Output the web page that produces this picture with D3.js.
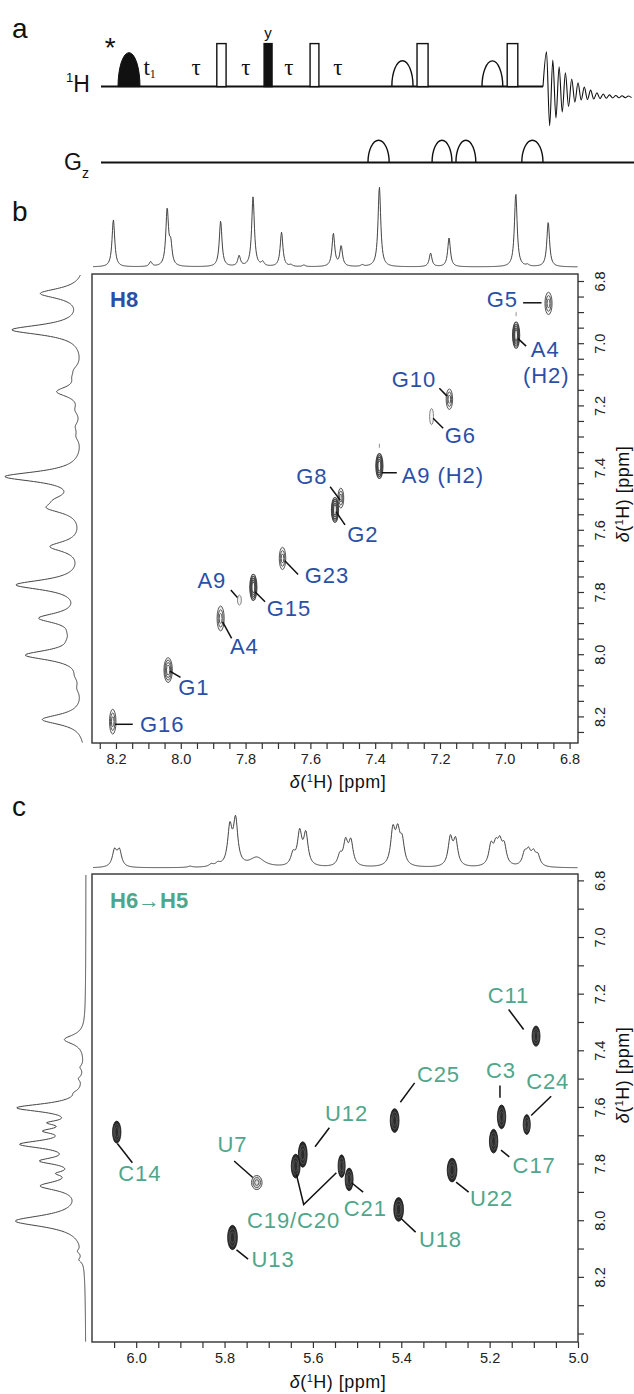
<!DOCTYPE html>
<html><head><meta charset="utf-8">
<script src="https://cdn.jsdelivr.net/npm/d3@7"></script>
<style>body{margin:0;background:#fff}svg{display:block}</style>
</head><body><svg width="634" height="1394"></svg>
<script>
// ---------------- DATA ----------------
// Panel a: pulse sequence elements (time in arbitrary units 0..100, amplitude 0..1)
const rfElements = [
  {t0:3.85, t1:8.82, amp:0.79, kind:"shaped", fill:true},
  {t0:26.2, t1:28.3, amp:1.0, kind:"rect", fill:false},
  {t0:36.9, t1:38.7, amp:1.0, kind:"rect", fill:true},
  {t0:47.3, t1:49.3, amp:1.0, kind:"rect", fill:false},
  {t0:65.8, t1:70.6, amp:0.6, kind:"sine", fill:false},
  {t0:71.5, t1:74.0, amp:1.0, kind:"rect", fill:false},
  {t0:86.2, t1:90.9, amp:0.6, kind:"sine", fill:false},
  {t0:91.9, t1:94.3, amp:1.0, kind:"rect", fill:false}
];
const gradElements = [
  {t0:60.4, t1:65.2, amp:0.52},
  {t0:74.9, t1:79.4, amp:0.52},
  {t0:80.3, t1:84.8, amp:0.52},
  {t0:95.2, t1:100.0, amp:0.52}
];
const delayLabels = [{t:11.0, txt:"t", sub:"1"},{t:21.5, txt:"τ"},{t:32.8, txt:"τ"},{t:42.5, txt:"τ"},{t:53.6, txt:"τ"}];
// FID extrema (relative amplitude, alternating up/down)
const fidExtrema = [1.05,-0.67,0.86,-0.49,0.70,-0.35,0.56,-0.22,0.42,-0.12,0.33,-0.07,0.23,-0.058,0.16,-0.047,0.10,-0.037,0.07,-0.03,0.05,-0.023,0.035,-0.019,0.028,-0.016,0.023,-0.014];

// Panel b: H8 region
const ticksMajorB = [8.2,8.0,7.8,7.6,7.4,7.2,7.0,6.8];
const tickLabelsB = ["8.2","8.0","7.8","7.6","7.4","7.2","7.0","6.8"];
// top 1D trace: [ppm, relative height]
const topPeaksB = [[8.208,0.59],[8.093,0.06],[8.042,0.70],[8.031,0.25],[7.877,0.57],[7.820,0.13],[7.777,0.87],[7.747,0.05],[7.689,0.43],[7.660,0.02],[7.620,0.02],[7.529,0.41],[7.505,0.25],[7.440,0.02],[7.387,1.0],[7.229,0.17],[7.172,0.36],[6.930,0.02],[6.966,0.92],[6.866,0.56]];
// left 1D projection: [ppm, relative height]
const leftPeaksB = [[6.84,0.54],[6.957,0.90],[7.086,0.07],[7.11,0.07],[7.156,0.32],[7.215,0.07],[7.268,0.07],[7.30,0.06],[7.429,0.97],[7.504,0.2],[7.53,0.36],[7.654,0.40],[7.777,0.83],[7.884,0.52],[7.93,0.06],[7.955,0.06],[8.003,0.71],[8.07,0.05],[8.11,0.05],[8.21,0.53]];
// 2D cross peaks: name, x ppm, y ppm, x width, y width (ppm), contour levels
const peakNamesB = ["G5","A4 (H2)","G10","G6","A9 (H2)","G8","G2","G23","G15","A9","A4","G1","G16"];
const peakXB = [6.865,6.965,7.171,7.226,7.387,7.506,7.524,7.686,7.776,7.819,7.877,8.039,8.21];
const peakYB = [6.872,6.974,7.180,7.236,7.395,7.498,7.536,7.692,7.785,7.826,7.885,8.051,8.217];
const peakWXB = [0.011,0.011,0.010,0.006,0.011,0.009,0.011,0.010,0.011,0.006,0.011,0.013,0.010];
const peakWYB = [0.036,0.042,0.033,0.026,0.040,0.032,0.040,0.036,0.042,0.016,0.040,0.040,0.040];
const peakLevelsB = [3,5,3,1,5,3,5,3,5,1,3,4,3];

// Panel c: H6->H5 region
const ticksMajorCx = [6.0,5.8,5.6,5.4,5.2,5.0];
const tickLabelsCx = ["6.0","5.8","5.6","5.4","5.2","5.0"];
const ticksMajorCy = [6.8,7.0,7.2,7.4,7.6,7.8,8.0,8.2];
const tickLabelsCy = ["6.8","7.0","7.2","7.4","7.6","7.8","8.0","8.2"];
const topPeaksC = [[6.049,0.27],[6.038,0.27],[5.878,0.02],[5.83,0.04],[5.815,0.05],[5.788,0.62],[5.775,0.74],[5.727,0.16,0.02],[5.645,0.19],[5.630,0.54],[5.616,0.52],[5.539,0.17],[5.526,0.39],[5.514,0.40],[5.419,0.57],[5.408,0.50],[5.398,0.38],[5.289,0.46],[5.277,0.42],[5.197,0.33],[5.186,0.29],[5.177,0.33],[5.167,0.31],[5.121,0.20],[5.112,0.22],[5.101,0.20],[5.091,0.17]];
const leftPeaksC = [[7.362,0.26,0.02],[7.46,0.04,0.01],[7.50,0.05,0.01],[7.55,0.05,0.01],[7.603,0.82,0.018],[7.656,0.30,0.01],[7.685,0.36,0.012],[7.732,0.74,0.018],[7.791,0.46,0.015],[7.835,0.2,0.01],[7.879,0.5,0.02],[8.003,0.86,0.025],[8.11,0.05,0.01],[8.14,0.05,0.01]];
const peakNamesC = ["C14","U7","U13","U12","C19","C20","C21","C25","U18","U22","C3","C17","C24","C11"];
const peakXC = [6.044,5.727,5.782,5.623,5.639,5.535,5.518,5.415,5.406,5.285,5.173,5.191,5.116,5.095];
const peakYC = [7.689,7.867,8.061,7.768,7.809,7.809,7.856,7.648,7.962,7.823,7.635,7.721,7.662,7.350];
const peakWXC = [0.0095,0.012,0.011,0.010,0.010,0.008,0.009,0.010,0.011,0.011,0.0095,0.0095,0.008,0.009];
const peakWYC = [0.039,0.025,0.043,0.045,0.042,0.040,0.040,0.042,0.042,0.042,0.042,0.042,0.035,0.036];

// ---------------- LAYOUT / ANNOTATION ----------------
const FONT = '"Liberation Sans", Arial, Helvetica, sans-serif';
const SERIF = '"Liberation Serif", "DejaVu Serif", serif';
const BLUE = "#2b4fa6", GREEN = "#4fa68b";
// label placement offsets (px) relative to peak
const labelsB = [
  {p:"G5", lines:[["G5",-61.7,3.4]], lead:[[-25.4,-0.6],[-7,-0.6]]},
  {p:"A4 (H2)", lines:[["A4",14.7,22],["(H2)",7,48]], lead:[[1.7,3.3],[10,11]]},
  {p:"G10", lines:[["G10",-57.6,-12]], lead:[[-10,-11],[-2.6,-3.3]]},
  {p:"G6", lines:[["G6",13.3,26]], lead:[[1.6,1.6],[11.6,11.6]]},
  {p:"A9 (H2)", lines:[["A9 (H2)",22.4,17.3]], lead:[[2.4,6.7],[17.4,6.7]]},
  {p:"G8", lines:[["G8",-44.7,-14]], lead:[[-10.7,-11.3],[-0.7,2]]},
  {p:"G2", lines:[["G2",12.3,31.7]], lead:[[1,1.7],[10,15]]},
  {p:"G23", lines:[["G23",22.3,25]], lead:[[2.3,2.4],[15.6,16]]},
  {p:"G15", lines:[["G15",13.4,28.7]], lead:[[1.7,4.4],[11.7,14.4]]},
  {p:"A9", lines:[["A9",-42,-11.7]], lead:[[-8.6,-10],[-2,-2.7]]},
  {p:"A4", lines:[["A4",9.3,35.7]], lead:[[2,3.4],[11,20]]},
  {p:"G1", lines:[["G1",10,25]], lead:[[1.7,1],[12.4,7.3]]},
  {p:"G16", lines:[["G16",27.3,10]], lead:[[2.3,2.6],[20,2.6]]}
];
const labelsC = [
  {p:"C11", lines:[["C11",-48.4,-33.4]], lead:[[-27.4,-26.7],[-12.4,-6.7]]},
  {p:"C25", lines:[["C25",22.3,-38.3]], lead:[[20,-37.7],[5.7,-18.3]]},
  {p:"C3", lines:[["C3",-15.6,-39]], lead:[[-1.6,-31.3],[-1.6,-19]]},
  {p:"C24", lines:[["C24",-0.6,-35]], lead:[[24.4,-28.3],[4.4,-9]]},
  {p:"C17", lines:[["C17",19,31.6]], lead:[[7.4,9],[15.7,15.6]]},
  {p:"U22", lines:[["U22",18,36]], lead:[[4,12],[16.6,22]]},
  {p:"U18", lines:[["U18",20.3,37.3]], lead:[[2.7,9.3],[17,22.7]]},
  {p:"C21", lines:[["C21",-5.3,36.7]], lead:[[2.4,3.3],[14,12.7]]},
  {p:"C19", lines:[["C19/C20",-48.7,61.6]], lead:[[0.7,8.3],[8,38.3],[40.7,6.6]]},
  {p:"U12", lines:[["U12",22.3,-33.3]], lead:[[26.6,-26.7],[12.3,-7.7]]},
  {p:"U7", lines:[["U7",-39.4,-30.6]], lead:[[-22.7,-21.6],[-4,-5]]},
  {p:"C14", lines:[["C14",1.6,49]], lead:[[0.6,11.3],[15.6,30.6]]},
  {p:"U13", lines:[["U13",19,30]], lead:[[4,12.4],[15.6,21.7]]}
];

const svg = d3.select("svg");
svg.append("rect").attr("width",634).attr("height",1394).attr("fill","#fff");

// helper: sum of Lorentzian lines given peak list
function trace(peaks, defHw){
  return ppm => d3.sum(peaks, p => { const hw = p[2]||defHw; const u=(ppm-p[0])/hw; return p[1]/(1+u*u); });
}
function panelLetter(t,x,y){
  svg.append("text").attr("x",x).attr("y",y).attr("font-family",FONT).attr("font-size",28).attr("fill","#111").text(t);
}

// ---------------- PANEL A ----------------
panelLetter("a",12,38);
const seqT = d3.scaleLinear().domain([0,100]).range([101,543]);
const seqA = d3.scaleLinear().domain([0,1]).range([0,43]);
const yH = 86.6, yG = 162.6;
const ga = svg.append("g");
ga.append("line").attr("x1",seqT(0)).attr("x2",seqT(100)).attr("y1",yH).attr("y2",yH).attr("stroke","#111").attr("stroke-width",2);
ga.append("line").attr("x1",seqT(0)).attr("x2",634).attr("y1",yG).attr("y2",yG).attr("stroke","#111").attr("stroke-width",2);
function arcPath(x0,x1,y,h,close){ const rx=(x1-x0)/2; return `M${x0},${y} A${rx},${h} 0 0 1 ${x1},${y}`+(close?"Z":""); }
rfElements.forEach(e=>{
  const x0=seqT(e.t0), x1=seqT(e.t1), h=seqA(e.amp);
  if(e.kind==="rect"){
    ga.append("rect").attr("x",x0).attr("y",yH-h).attr("width",x1-x0).attr("height",h)
      .attr("fill",e.fill?"#111":"#fff").attr("stroke","#111").attr("stroke-width",1.4);
  } else if(e.kind==="shaped"){
    ga.append("path").attr("d",arcPath(x0,x1,yH,h,true)).attr("fill","#111").attr("stroke","#111");
  } else {
    ga.append("path").attr("d",arcPath(x0,x1,yH,h,false)).attr("fill","none").attr("stroke","#111").attr("stroke-width",1.4);
  }
});
gradElements.forEach(e=>{
  ga.append("path").attr("d",arcPath(seqT(e.t0),seqT(e.t1),yG,seqA(e.amp),false)).attr("fill","none").attr("stroke","#111").attr("stroke-width",1.4);
});
// FID
const fidX0 = seqT(100), fidStep = 3.15, fidC = 97;
const fidPts = [[fidX0, yH]].concat(fidExtrema.map((a,i)=>[fidX0+3.5+i*fidStep, fidC - seqA(a)]));
ga.append("path").attr("d", d3.line().curve(d3.curveMonotoneX)(fidPts)).attr("fill","none").attr("stroke","#111").attr("stroke-width",1.1);
// labels
delayLabels.forEach(d=>{
  const t = ga.append("text").attr("x",seqT(d.t)).attr("y",75).attr("text-anchor","middle").attr("font-family",SERIF).attr("font-size",23).attr("fill","#111");
  t.append("tspan").text(d.txt);
  if(d.sub) t.append("tspan").attr("font-size",12).attr("dy",3).text(d.sub);
});
ga.append("text").attr("x",seqT(2.1)).attr("y",57).attr("text-anchor","middle").attr("font-family",FONT).attr("font-size",28).attr("fill","#111").text("*");
ga.append("text").attr("x",seqT((36.9+38.7)/2)).attr("y",38).attr("text-anchor","middle").attr("font-family",FONT).attr("font-size",15).attr("fill","#111").text("y");
const lh = ga.append("text").attr("x",66).attr("y",92).attr("font-family",FONT).attr("font-size",23).attr("fill","#111");
lh.append("tspan").attr("font-size",13).attr("dy",-10).text("1");
lh.append("tspan").attr("dy",10).text("H");
const lg = ga.append("text").attr("x",64).attr("y",170).attr("font-family",FONT).attr("font-size",23).attr("fill","#111");
lg.append("tspan").text("G");
lg.append("tspan").attr("font-size",14).attr("dy",8).text("z");

// ---------------- generic 2D panel ----------------
function ppmTitle(sel){
  sel.append("tspan").attr("font-style","italic").text("δ");
  sel.append("tspan").text("(");
  sel.append("tspan").attr("font-size",11).attr("dy",-6).text("1");
  sel.append("tspan").attr("dy",6).text("H) [ppm]");
}
function drawPanel(cfg){
  const g = svg.append("g");
  const {x,y} = cfg;
  const [L,R] = x.range(), [T,B] = y.range();
  // top trace
  const ft = trace(cfg.topPeaks, cfg.topHw);
  const topY = d3.scaleLinear().domain([0,1]).range([cfg.topBase, cfg.topBase - cfg.topH]);
  const xs = d3.range(L+1, R, 0.5).map(px=>x.invert(px));
  g.append("path").attr("d", d3.line().x(p=>x(p)).y(p=>topY(ft(p)))(xs))
    .attr("fill","none").attr("stroke","#444").attr("stroke-width",1);
  // left trace
  const fl = trace(cfg.leftPeaks, cfg.leftHw);
  const leftX = d3.scaleLinear().domain([0,1]).range([cfg.leftBase, cfg.leftBase - cfg.leftH]);
  const ys = d3.range(T+1, B, 0.5).map(py=>y.invert(py));
  g.append("path").attr("d", d3.line().x(p=>leftX(fl(p))).y(p=>y(p))(ys))
    .attr("fill","none").attr("stroke","#444").attr("stroke-width",1);
  // box
  g.append("rect").attr("x",L).attr("y",T).attr("width",R-L).attr("height",B-T).attr("fill","#fff").attr("stroke","#333").attr("stroke-width",1.4);
  // axes
  const xa = g.append("g").attr("transform",`translate(0,${B})`)
    .call(d3.axisBottom(x).tickValues(cfg.xTicks).tickSize(6).tickPadding(5)
      .tickFormat(v=>{const i=cfg.xMajors.findIndex(m=>Math.abs(m-v)<1e-6); return i>=0?cfg.xLabels[i]:"";}));
  const ya = g.append("g").attr("transform",`translate(${R},0)`)
    .call(d3.axisRight(y).tickValues(cfg.yTicks).tickSize(6)
      .tickFormat(v=>{const i=cfg.yMajors.findIndex(m=>Math.abs(m-v)<1e-6); return i>=0?cfg.yLabels[i]:"";}));
  [xa,ya].forEach(a=>{a.select(".domain").remove(); a.selectAll("line").attr("stroke","#333").attr("stroke-width",1.2);
    a.selectAll("text").attr("font-family",FONT).attr("font-size",14.5).attr("fill","#222");});
  ya.selectAll("text").attr("x",null).attr("dy","0.35em").attr("text-anchor","middle").attr("transform","translate(22,0) rotate(-90)");
  // axis titles
  const xt = g.append("text").attr("x",cfg.xTitle[0]).attr("y",cfg.xTitle[1]).attr("text-anchor","middle").attr("font-family",FONT).attr("font-size",18).attr("letter-spacing",0.5).attr("fill","#111");
  ppmTitle(xt);
  const yt = g.append("text").attr("text-anchor","middle").attr("font-family",FONT).attr("font-size",18).attr("letter-spacing",0.5).attr("fill","#111")
    .attr("transform",`translate(${cfg.yTitle[0]},${cfg.yTitle[1]}) rotate(-90)`).attr("dy","0.35em");
  ppmTitle(yt);
  return g;
}
function drawLabels(g, labels, pos, color){
  labels.forEach(l=>{
    const p = pos[l.p];
    g.append("path").attr("d", d3.line()(l.lead.map(d=>[p[0]+d[0], p[1]+d[1]])))
      .attr("fill","none").attr("stroke","#111").attr("stroke-width",1.5);
    l.lines.forEach(s=>{
      g.append("text").attr("x",p[0]+s[1]).attr("y",p[1]+s[2]).attr("font-family",FONT).attr("font-size",22)
        .attr("letter-spacing",0.9).attr("fill",color).text(s[0]);
    });
  });
}

// ---------------- PANEL B ----------------
panelLetter("b",12,221);
const xB = d3.scaleLinear().domain([8.274,6.774]).range([92,578]);
const yB = d3.scaleLinear().domain([6.7775,8.2855]).range([274,743]);
const gB = drawPanel({x:xB, y:yB, topPeaks:topPeaksB, topHw:0.005, topBase:267, topH:80,
  leftPeaks:leftPeaksB, leftHw:0.02, leftBase:86, leftH:80,
  xTicks:d3.range(8.25,6.774,-0.05), xMajors:ticksMajorB, xLabels:tickLabelsB,
  yTicks:d3.range(6.8,8.2855,0.05), yMajors:ticksMajorB, yLabels:tickLabelsB,
  xTitle:[338,788], yTitle:[623,494]});
const posB = {};
peakNamesB.forEach((n,i)=>{
  const cx=xB(peakXB[i]), cy=yB(peakYB[i]);
  posB[n]=[cx,cy];
  const rx=Math.abs(xB(peakXB[i]+peakWXB[i])-cx), ry=yB(peakYB[i]+peakWYB[i])-cy;
  const n0=peakLevelsB[i];
  for(let k=0;k<n0;k++){
    const f = n0===1?1:1-k*0.6/(n0-1);
    gB.append("ellipse").attr("cx",cx).attr("cy",cy).attr("rx",rx*f).attr("ry",ry*f)
      .attr("fill",k===0?"#f4f4f4":"none").attr("stroke",n0===1?"#777":"#444").attr("stroke-width",n0>=5?1.1:0.9);
  }
});
// faint satellite contours above two H2 peaks
[[6.965,6.906],[7.387,7.33]].forEach(d=>{
  gB.append("ellipse").attr("cx",xB(d[0])).attr("cy",yB(d[1])).attr("rx",0.6).attr("ry",2.5).attr("fill","#999");
});
drawLabels(gB, labelsB, posB, BLUE);
gB.append("text").attr("x",110).attr("y",307).attr("font-family",FONT).attr("font-size",22).attr("font-weight","bold").attr("fill",BLUE).text("H8");

// ---------------- PANEL C ----------------
panelLetter("c",12,816);
const xC = d3.scaleLinear().domain([6.1,5.0]).range([92,578]);
const yC = d3.scaleLinear().domain([6.7775,8.43]).range([874,1342]);
const gC = drawPanel({x:xC, y:yC, topPeaks:topPeaksC, topHw:0.006, topBase:868, topH:60,
  leftPeaks:leftPeaksC, leftHw:0.02, leftBase:86, leftH:80,
  xTicks:d3.range(6.05,4.99,-0.05), xMajors:ticksMajorCx, xLabels:tickLabelsCx,
  yTicks:d3.range(6.8,8.43,0.1), yMajors:ticksMajorCy, yLabels:tickLabelsCy,
  xTitle:[338,1388], yTitle:[623,1075]});
const posC = {};
peakNamesC.forEach((n,i)=>{
  const cx=xC(peakXC[i]), cy=yC(peakYC[i]);
  posC[n]=[cx,cy];
  const rx=Math.abs(xC(peakXC[i]+peakWXC[i])-cx), ry=yC(peakYC[i]+peakWYC[i])-cy;
  if(n==="U7"){
    [1,0.7,0.4].forEach((f,k)=>gC.append("ellipse").attr("cx",cx).attr("cy",cy).attr("rx",rx*f).attr("ry",ry*f)
      .attr("fill",k===0?"#ddd":"none").attr("stroke","#555").attr("stroke-width",1));
  } else {
    gC.append("ellipse").attr("cx",cx).attr("cy",cy).attr("rx",rx).attr("ry",ry).attr("fill","#2a2a2a").attr("stroke","#111").attr("stroke-width",0.8);
    [0.72,0.45].forEach(f=>gC.append("ellipse").attr("cx",cx).attr("cy",cy).attr("rx",rx*f).attr("ry",ry*f)
      .attr("fill","none").attr("stroke","#777").attr("stroke-width",0.5));
  }
});
drawLabels(gC, labelsC, posC, GREEN);
gC.append("text").attr("x",110).attr("y",908).attr("font-family",FONT).attr("font-size",22).attr("font-weight","bold").attr("fill",GREEN).text("H6→H5");
</script></body></html>
